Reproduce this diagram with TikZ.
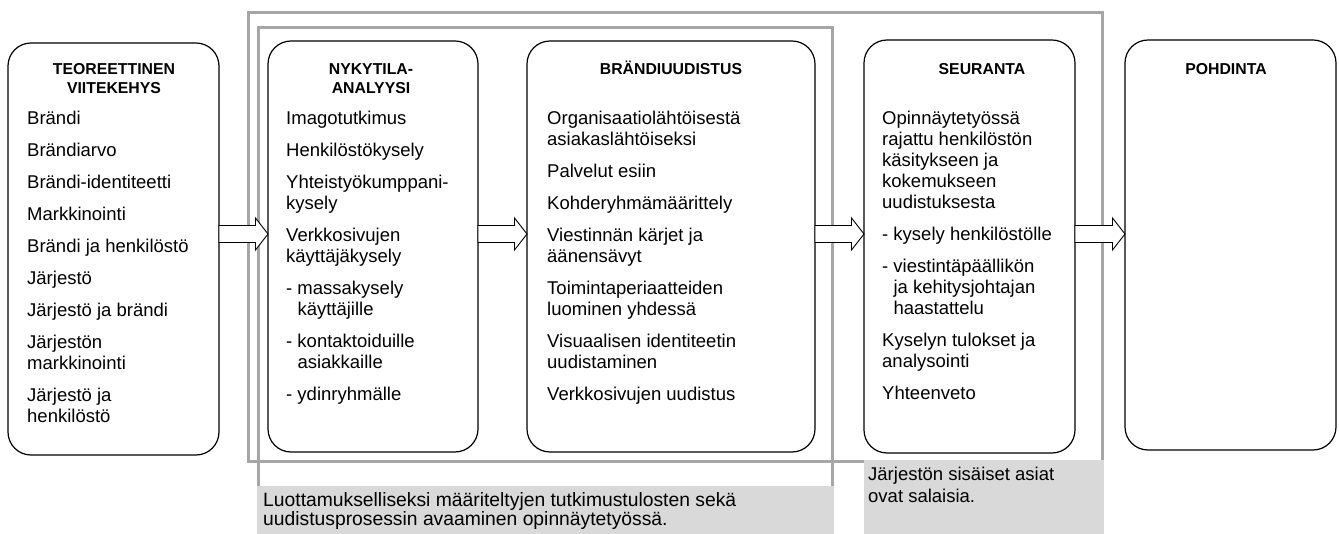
\documentclass[tikz,border=0pt]{standalone}
\usepackage{fontspec}
\setmainfont{Liberation Sans}
\usetikzlibrary{calc}
\definecolor{frameg}{HTML}{A6A6A6}
\definecolor{fillg}{HTML}{D9D9D9}
\newcommand{\bodyfont}{\fontsize{18.5}{21}\selectfont}
\newcommand{\titlefont}{\fontsize{15.8}{19}\selectfont\bfseries}
\newcommand{\ind}{\phantom{-~}}
\newcommand{\blockarrow}[2]{%
  \draw[barrow] let \p1=(#1.east |- ay), \p2=(#2.west |- ay) in
    (\x1,\y1+8.5) -- (\x2-12.5,\y1+8.5) -- (\x2-12.5,\y1+16) -- (\x2,\y1)
    -- (\x2-12.5,\y1-16) -- (\x2-12.5,\y1-8.5) -- (\x1,\y1-8.5) -- cycle;}
\tikzset{
  gframe/.style={draw=frameg, line width=3pt},
  gnote/.style={fill=fillg},
  rbox/.style={draw=black, line width=1.2pt, rounded corners=23pt, fill=white, inner sep=0pt, outer sep=0pt},
  btitle/.style={anchor=base, inner sep=0pt, font=\titlefont},
  bbody/.style={anchor=base west, inner sep=0pt, font=\bodyfont},
  barrow/.style={draw=black, fill=white, line width=0.9pt},
}
\begin{document}
\begin{tikzpicture}[x=1pt,y=-1pt]
\useasboundingbox (0,0) rectangle (1339,534);
% grey frames
\draw[gframe] (248,13) rectangle (1102,461);
\draw[gframe] (258,486) -- (258,28) -- (832,28) -- (832,486);
% grey notes
\fill[gnote] (256.5,485.5) rectangle (833.5,534);
\fill[gnote] (864,459.5) rectangle (1103.5,534);
\node[anchor=base west, inner sep=0pt, font=\fontsize{19.3}{19.5}\selectfont] (n1) at (263,506)
  {\begin{tabular}[t]{@{}l@{}}Luottamukselliseksi määriteltyjen tutkimustulosten sekä\\uudistusprosessin avaaminen opinnäytetyössä.\end{tabular}};
\node[anchor=base west, inner sep=0pt, font=\fontsize{18.5}{21.5}\selectfont] (n2) at (868,480.5)
  {\begin{tabular}[t]{@{}l@{}}Järjestön sisäiset asiat\\ovat salaisia.\end{tabular}};
% boxes
\node[rbox, minimum width=211pt, minimum height=412pt] (b1) at (113.5,249) {};
\node[rbox, minimum width=210pt, minimum height=411pt] (b2) at (373,246.5) {};
\node[rbox, minimum width=288pt, minimum height=411pt] (b3) at (671,246.5) {};
\node[rbox, minimum width=211pt, minimum height=413pt] (b4) at (969.5,246.5) {};
\node[rbox, minimum width=211pt, minimum height=410pt] (b5) at (1230.5,245) {};
% titles
\node[btitle] (t1) at (114,75) {\begin{tabular}[t]{@{}c@{}}TEOREETTINEN\\VIITEKEHYS\end{tabular}};
\node[btitle] (t2) at (371,75) {\begin{tabular}[t]{@{}c@{}}NYKYTILA-\\ANALYYSI\end{tabular}};
\node[btitle] (t3) at (671,75) {BRÄNDIUUDISTUS};
\node[btitle] (t4) at (982,75) {SEURANTA};
\node[btitle] (t5) at (1226,75) {POHDINTA};
% bodies
\node[bbody] (c1) at (27,125) {\begin{tabular}[t]{@{}l@{}}
Brändi\\[11pt]
Brändiarvo\\[11pt]
Brändi-identiteetti\\[11pt]
Markkinointi\\[11pt]
Brändi ja henkilöstö\\[11pt]
Järjestö\\[11pt]
Järjestö ja brändi\\[11pt]
Järjestön\\
markkinointi\\[11pt]
Järjestö ja\\
henkilöstö
\end{tabular}};
\node[bbody] (c2) at (286,125) {\begin{tabular}[t]{@{}l@{}}
Imagotutkimus\\[11pt]
Henkilöstökysely\\[11pt]
Yhteistyökumppani-\\
kysely\\[11pt]
Verkkosivujen\\
käyttäjäkysely\\[11pt]
- massakysely\\
\ind käyttäjille\\[11pt]
- kontaktoiduille\\
\ind asiakkaille\\[11pt]
- ydinryhmälle
\end{tabular}};
\node[bbody] (c3) at (547,125) {\begin{tabular}[t]{@{}l@{}}
Organisaatiolähtöisestä\\
asiakaslähtöiseksi\\[11pt]
Palvelut esiin\\[11pt]
Kohderyhmämäärittely\\[11pt]
Viestinnän kärjet ja\\
äänensävyt\\[11pt]
Toimintaperiaatteiden\\
luominen yhdessä\\[11pt]
Visuaalisen identiteetin\\
uudistaminen\\[11pt]
Verkkosivujen uudistus
\end{tabular}};
\node[bbody] (c4) at (882,125) {\begin{tabular}[t]{@{}l@{}}
Opinnäytetyössä\\
rajattu henkilöstön\\
käsitykseen ja\\
kokemukseen\\
uudistuksesta\\[11pt]
- kysely henkilöstölle\\[11pt]
- viestintäpäällikön\\
\ind ja kehitysjohtajan\\
\ind haastattelu\\[11pt]
Kyselyn tulokset ja\\
analysointi\\[11pt]
Yhteenveto
\end{tabular}};
% arrows
\coordinate (ay) at (0,234);
\blockarrow{b1}{b2}
\blockarrow{b2}{b3}
\blockarrow{b3}{b4}
\blockarrow{b4}{b5}
\end{tikzpicture}
\end{document}
